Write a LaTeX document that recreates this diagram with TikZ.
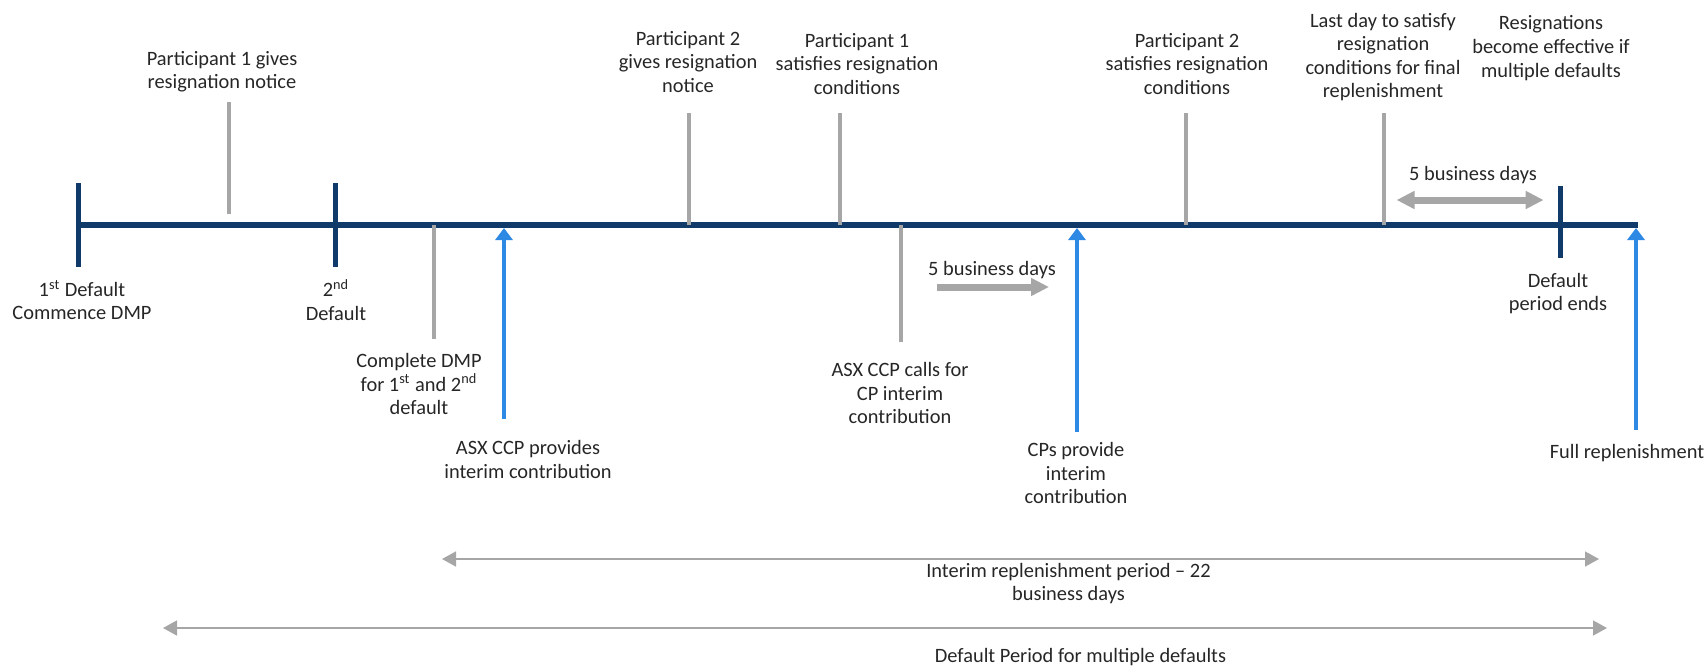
\documentclass[tikz,border=0pt]{standalone}
\usepackage{fontspec}
\setmainfont{Carlito}
\usetikzlibrary{arrows.meta}
\definecolor{navy}{RGB}{16,58,106}
\definecolor{evgrey}{RGB}{166,166,166}
\definecolor{payblue}{RGB}{46,137,229}

\begin{document}
\begin{tikzpicture}[x=50pt,y=50pt,
    lbl/.style={align=center,font=\fontsize{10.2}{11.8}\selectfont,text=black!85,inner sep=0pt},
    navytick/.style={navy,line width=2.5pt},
    greytick/.style={evgrey,line width=2pt},
    payarrow/.style={payblue,line width=2.2pt,-{Triangle[length=6pt,width=8.5pt]}},
    gaparrow/.style={evgrey,line width=3.5pt,-{Triangle[length=9pt,width=8.5pt]}},
    periodline/.style={evgrey,line width=0.8pt,{Triangle[length=7pt,width=7.5pt]}-{Triangle[length=7pt,width=7.5pt]}}]
    \useasboundingbox (0,2.25) rectangle (17.06,-4.40);
    \draw[navy,line width=3pt] (0.785,0)--(16.38,0); % time axis
    % defaults and end of default period
    \draw[navytick] (0.785,0.42)--(0.785,-0.42);
    \draw[navytick] (3.35,0.42)--(3.35,-0.42);
    \draw[navytick] (15.60,0.39)--(15.60,-0.33);
    % resignation events (above the axis)
    \draw[greytick] (2.285,1.23)--(2.285,0.11);
    \draw[greytick] (6.89,1.12)--(6.89,0);
    \draw[greytick] (8.40,1.12)--(8.40,0);
    \draw[greytick] (11.855,1.12)--(11.855,0);
    \draw[greytick] (13.84,1.12)--(13.84,0);
    % DMP events (below the axis)
    \draw[greytick] (4.336,0)--(4.336,-1.14);
    \draw[greytick] (9.01,0)--(9.01,-1.17);
    % contributions
    \draw[payarrow] (5.04,-1.94)--(5.04,-0.03);
    \draw[payarrow] (10.77,-2.07)--(10.77,-0.03);
    \draw[payarrow] (16.36,-2.05)--(16.36,-0.03);
    % business day gaps
    \draw[gaparrow] (9.365,-0.62)--(10.49,-0.62);
    \draw[gaparrow,{Triangle[length=9pt,width=8.5pt]}-{Triangle[length=9pt,width=8.5pt]}] (13.965,0.25)--(15.436,0.25);
    \node[lbl] (gapcall) at (9.92,-0.45) {5 business days};
    \node[lbl] (gapend) at (14.73,0.50) {5 business days};
    % periods
    \draw[periodline] (4.42,-3.34)--(15.99,-3.34);
    \draw[periodline] (1.63,-4.03)--(16.07,-4.03);
    \node[lbl] (interim) at (10.685,-3.585) {Interim replenishment period -- 22\\business days};
    \node[lbl] (defperiod) at (10.805,-4.32) {Default Period for multiple defaults};
    % labels above
    \node[lbl] (p1notice) at (2.22,1.535) {Participant 1 gives\\resignation notice};
    \node[lbl] (p2notice) at (6.88,1.63) {Participant 2\\gives resignation\\notice};
    \node[lbl] (p1cond) at (8.57,1.61) {Participant 1\\satisfies resignation\\conditions};
    \node[lbl] (p2cond) at (11.87,1.61) {Participant 2\\satisfies resignation\\conditions};
    \node[lbl] (lastday) at (13.83,1.68) {Last day to satisfy\\resignation\\conditions for final\\replenishment};
    \node[lbl] (effective) at (15.51,1.77) {Resignations\\become effective if\\multiple defaults};
    % labels below
    \node[lbl] (first) at (0.82,-0.75) {1\textsuperscript{st} Default\\Commence DMP};
    \node[lbl] (second) at (3.36,-0.75) {2\textsuperscript{nd}\\Default};
    \node[lbl] (dmpdone) at (4.19,-1.59) {Complete DMP\\for 1\textsuperscript{st} and 2\textsuperscript{nd}\\default};
    \node[lbl] (asxpay) at (5.28,-2.345) {ASX CCP provides\\interim contribution};
    \node[lbl] (asxcall) at (9.00,-1.68) {ASX CCP calls for\\CP interim\\contribution};
    \node[lbl] (cppay) at (10.76,-2.48) {CPs provide\\interim\\contribution};
    \node[lbl] (ends) at (15.58,-0.685) {Default\\period ends};
    \node[lbl] (full) at (16.27,-2.28) {Full replenishment};
\end{tikzpicture}
\end{document}
